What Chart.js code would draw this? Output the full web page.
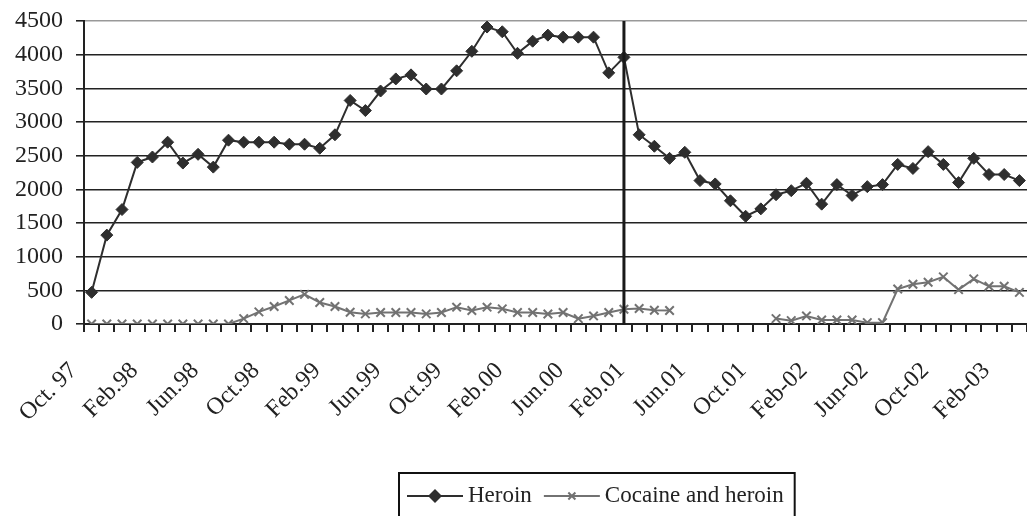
<!DOCTYPE html>
<html>
<head>
<meta charset="utf-8">
<script src="https://cdn.jsdelivr.net/npm/chart.js@4/dist/chart.umd.min.js"></script>
<style>
    body { margin: 0; overflow: hidden; background: #fff; }
    /* the plot runs a few pixels past the right edge, as in the source */
    #wrap { width: 1027px; height: 516px; overflow: hidden; }
    canvas { display: block; }
</style>
</head>
<body>
<div id="wrap"><canvas id="myChart" width="1035" height="516"></canvas></div>
<script>
// one label every 4 months, as printed on the axis
const tickLabels = [
    'Oct. 97', 'Feb.98', 'Jun.98', 'Oct.98', 'Feb.99', 'Jun.99', 'Oct.99', 'Feb.00',
    'Jun.00', 'Feb.01', 'Jun.01', 'Oct.01', 'Feb-02', 'Jun-02', 'Oct-02', 'Feb-03'
];

const heroin = [
    470, 1320, 1700, 2400, 2480, 2700, 2390, 2520, 2330, 2730,
    2700, 2700, 2700, 2670, 2670, 2610, 2810, 3320, 3170, 3460,
    3640, 3700, 3490, 3490, 3760, 4050, 4410, 4340, 4020, 4200,
    4290, 4260, 4260, 4260, 3730, 3960, 2810, 2640, 2460, 2550,
    2130, 2080, 1830, 1600, 1710, 1920, 1980, 2090, 1780, 2070,
    1910, 2040, 2070, 2370, 2310, 2560, 2370, 2100, 2460, 2220,
    2220, 2130
];

const cocaineHeroin = [
    0, 0, 0, 0, 0, 0, 0, 0, 0, 0,
    80, 180, 260, 350, 440, 320, 260, 175, 150, 170,
    170, 170, 150, 170, 250, 200, 250, 225, 170, 170,
    148, 170, 80, 120, 170, 220, 230, 205, 200,
    null, null, null, null, null, null,
    80, 50, 120, 60, 60, 60, 20, 20,
    520, 590, 620, 700, 510, 670, 560, 560, 470
];

// month where the series changes source (thick vertical line)
const breakIndex = 35;

const labels = heroin.map((v, i) => (i % 4 == 0 ? tickLabels[i / 4] : ''));

const fontFamily = '"Liberation Serif", "Times New Roman", serif';
const fontSize = 23;
const tickSize = 24;
const ink = '#222';

Chart.defaults.font.family = fontFamily;
Chart.defaults.font.size = tickSize;
Chart.defaults.color = ink;

const breakLine = {
    id: 'breakLine',
    afterDatasetsDraw(chart) {
        const ctx = chart.ctx;
        const area = chart.chartArea;
        const x = chart.scales.x.getPixelForValue(breakIndex);
        ctx.save();
        ctx.strokeStyle = '#1a1a1a';
        ctx.lineWidth = 3;
        ctx.beginPath();
        ctx.moveTo(x, area.top);
        ctx.lineTo(x, area.bottom + 1);
        ctx.stroke();
        ctx.restore();
    }
};

function drawMarker(ctx, style, x, y, r, color) {
    ctx.save();
    ctx.fillStyle = color;
    ctx.strokeStyle = color;
    ctx.lineWidth = 2;
    ctx.beginPath();
    if (style == 'rectRot') {
        ctx.moveTo(x, y - r);
        ctx.lineTo(x + r, y);
        ctx.lineTo(x, y + r);
        ctx.lineTo(x - r, y);
        ctx.closePath();
        ctx.fill();
    } else {
        const d = r * Math.SQRT1_2;
        ctx.moveTo(x - d, y - d);
        ctx.lineTo(x + d, y + d);
        ctx.moveTo(x + d, y - d);
        ctx.lineTo(x - d, y + d);
        ctx.stroke();
    }
    ctx.restore();
}

// legend drawn as a framed box below the axis labels
const legendBox = {
    id: 'legendBox',
    afterDraw(chart) {
        const ctx = chart.ctx;
        const area = chart.chartArea;
        const left = 399;
        const top = area.bottom + 149;
        const mid = top + 23;
        const lineLen = 56;
        ctx.save();
        ctx.font = fontSize + 'px ' + fontFamily;
        ctx.textBaseline = 'middle';
        let x = left + 8;
        for (let ds of chart.data.datasets) {
            ctx.strokeStyle = ds.borderColor;
            ctx.lineWidth = 2;
            ctx.beginPath();
            ctx.moveTo(x, mid);
            ctx.lineTo(x + lineLen, mid);
            ctx.stroke();
            drawMarker(ctx, ds.pointStyle, x + lineLen / 2, mid,
                ds.pointStyle == 'rectRot' ? 7 : 5, ds.pointBorderColor);
            x += lineLen + 5;
            ctx.fillStyle = ink;
            ctx.fillText(ds.label, x, mid);
            x += ctx.measureText(ds.label).width + 12;
        }
        ctx.strokeStyle = '#111';
        ctx.lineWidth = 2;
        ctx.strokeRect(left, top, x - 12 + 11 - left, 60);
        ctx.restore();
    }
};

const data = {
    labels: labels,
    datasets: [{
        label: 'Heroin',
        data: heroin,
        borderColor: '#2e2e2e',
        borderWidth: 2,
        pointStyle: 'rectRot',
        pointRadius: 6,
        pointBackgroundColor: '#2e2e2e',
        pointBorderColor: '#2e2e2e',
        pointBorderWidth: 1,
        tension: 0
    }, {
        label: 'Cocaine and heroin',
        data: cocaineHeroin,
        borderColor: '#727272',
        borderWidth: 2,
        pointStyle: 'crossRot',
        pointRadius: 6,
        pointBorderColor: '#727272',
        pointBorderWidth: 2,
        spanGaps: false,
        tension: 0
    }]
};

const options = {
    responsive: false,
    animation: false,
    layout: { padding: { top: 21, right: 1, left: 0, bottom: 0 } },
    plugins: {
        legend: { display: false },
        tooltip: { enabled: false }
    },
    scales: {
        x: {
            offset: true,
            afterFit: (s) => {
                s.height = 192;
                s.paddingLeft = 0;
                s.paddingRight = 0;
            },
            border: { display: true, color: ink, width: 2 },
            grid: {
                offset: true,
                drawOnChartArea: false,
                drawTicks: true,
                tickLength: 8,
                color: ink,
                lineWidth: 2
            },
            ticks: {
                autoSkip: false,
                minRotation: 45,
                maxRotation: 45,
                labelOffset: -18,
                padding: 25,
                color: ink
            }
        },
        y: {
            min: 0,
            max: 4500,
            afterFit: (s) => {
                s.width = 84;
                s.paddingTop = 0;
                s.paddingBottom = 0;
            },
            border: { display: true, color: ink, width: 2 },
            grid: {
                drawTicks: true,
                tickLength: 8,
                lineWidth: 1.6,
                color: (c) => (c.tick && c.tick.value == 4500 ? '#999' : ink),
                tickColor: ink
            },
            ticks: {
                stepSize: 500,
                padding: 13,
                color: ink,
                callback: (v) => String(v)
            }
        }
    }
};

const config = {
    type: 'line',
    data,
    options,
    plugins: [breakLine, legendBox]
};

var myChart = new Chart(
    document.getElementById('myChart'),
    config
);
</script>
</body>
</html>
